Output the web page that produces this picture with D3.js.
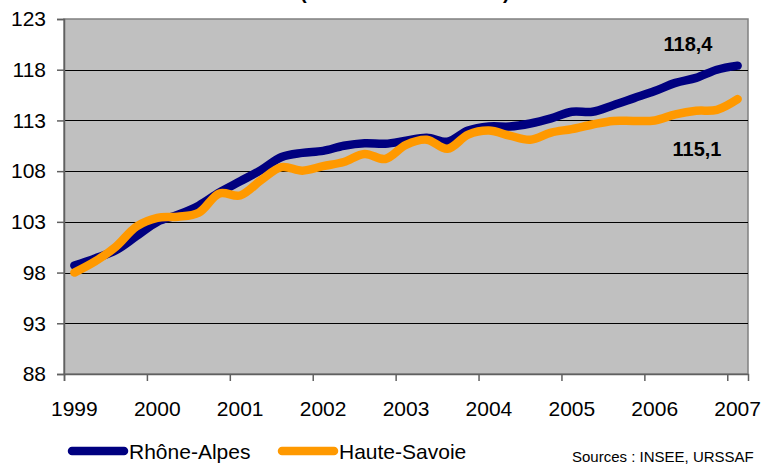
<!DOCTYPE html>
<html>
<head>
<meta charset="utf-8">
<script src="https://d3js.org/d3.v7.min.js"></script>
<style>
  body { margin: 0; background: #ffffff; }
  text { font-family: "Liberation Sans", Arial, sans-serif; }
</style>
</head>
<body>
<div id="chart"></div>
<script>
var years = ["1999", "2000", "2001", "2002", "2003", "2004", "2005", "2006", "2007"];
var quarters = [
  "1999T1", "1999T2", "1999T3", "1999T4", "2000T1", "2000T2", "2000T3", "2000T4",
  "2001T1", "2001T2", "2001T3", "2001T4", "2002T1", "2002T2", "2002T3", "2002T4",
  "2003T1", "2003T2", "2003T3", "2003T4", "2004T1", "2004T2", "2004T3", "2004T4",
  "2005T1", "2005T2", "2005T3", "2005T4", "2006T1", "2006T2", "2006T3", "2006T4",
  "2007T1"
];
var rhoneAlpes = [98.7, 99.4, 100.2, 101.6, 103.0, 103.7, 104.6, 105.9, 107.0, 108.1, 109.4, 109.8, 110.0, 110.5, 110.75, 110.7,
  111.0, 111.3, 110.9, 112.0, 112.4, 112.4, 112.7, 113.2, 113.85, 113.85, 114.5, 115.2, 115.9, 116.7, 117.2, 118.0, 118.4];
var hauteSavoie = [98.0, 99.1, 100.55, 102.55, 103.4, 103.5, 103.9, 105.8, 105.6, 107.1, 108.4, 108.05, 108.5, 108.9, 109.7, 109.2,
  110.6, 111.1, 110.2, 111.6, 112.0, 111.5, 111.1, 111.8, 112.15, 112.6, 112.95, 112.95, 113.0, 113.6, 113.95, 114.05, 115.1];
var yTicks = [88, 93, 98, 103, 108, 113, 118, 123];
var seriesNames = ["Rhône-Alpes", "Haute-Savoie"];
var seriesColors = ["#000080", "#ff9900"];

var width = 764;
var height = 467;
var plotL = 64, plotR = 748, plotT = 19, plotB = 374;

var svg = d3.select("#chart")
  .append("svg")
  .attr("width", width)
  .attr("height", height);

// category axis: one band per quarter, ticks on boundaries every year
var x = d3.scaleLinear().domain([0, quarters.length]).range([plotL, plotR]);
var y = d3.scaleLinear().domain([88, 123]).range([plotB, plotT]);

svg.append("rect")
  .attr("x", plotL)
  .attr("y", plotT)
  .attr("width", plotR - plotL)
  .attr("height", plotB - plotT)
  .attr("fill", "#c0c0c0")
  .attr("stroke", "#808080")
  .attr("stroke-width", 1.5);

svg.selectAll("line.grid")
  .data(yTicks.slice(1, -1))
  .enter()
  .append("line")
  .attr("class", "grid")
  .attr("x1", plotL)
  .attr("x2", plotR)
  .attr("y1", function(d) { return Math.round(y(d)) + 0.5; })
  .attr("y2", function(d) { return Math.round(y(d)) + 0.5; })
  .attr("stroke", "#000")
  .attr("stroke-width", 1);

// y axis
var yAxis = d3.axisLeft(y).tickValues(yTicks).tickSize(7).tickPadding(11);
var gy = svg.append("g")
  .attr("transform", "translate(" + plotL + ",0)")
  .call(yAxis);
gy.selectAll("path, line").attr("stroke", "#606060").attr("stroke-width", 1.5);
gy.selectAll("text").attr("font-size", 21).attr("fill", "#000")
  .attr("font-family", "Liberation Sans, Arial, sans-serif");

// x axis ticks
var xAxis = d3.axisBottom(x)
  .tickValues(d3.range(0, quarters.length, 4))
  .tickSize(7)
  .tickFormat("");
var gx = svg.append("g")
  .attr("transform", "translate(0," + plotB + ")")
  .call(xAxis);
gx.selectAll("path, line").attr("stroke", "#606060").attr("stroke-width", 1.5);

svg.selectAll("text.year")
  .data(years)
  .enter()
  .append("text")
  .attr("class", "year")
  .attr("x", function(d, i) { return x(i * 4 + 0.5); })
  .attr("y", 416)
  .attr("text-anchor", "middle")
  .attr("font-size", 21)
  .text(function(d) { return d; });

var line = d3.line()
  .x(function(d, i) { return x(i + 0.5); })
  .y(function(d) { return y(d); })
  .curve(d3.curveCatmullRom.alpha(0.5));

[rhoneAlpes, hauteSavoie].forEach(function(values, k) {
  svg.append("path")
    .datum(values)
    .attr("d", line)
    .attr("fill", "none")
    .attr("stroke", seriesColors[k])
    .attr("stroke-width", 8.5)
    .attr("stroke-linecap", "round")
    .attr("stroke-linejoin", "round");
});

// end value labels
var last = quarters.length - 1;
svg.append("text")
  .attr("x", 688)
  .attr("y", 51)
  .attr("text-anchor", "middle")
  .attr("font-size", 20)
  .attr("font-weight", "bold")
  .text(d3.format(".1f")(rhoneAlpes[last]).replace(".", ","));
svg.append("text")
  .attr("x", 697)
  .attr("y", 156)
  .attr("text-anchor", "middle")
  .attr("font-size", 20)
  .attr("font-weight", "bold")
  .text(d3.format(".1f")(hauteSavoie[last]).replace(".", ","));

// legend
var legendX = [72, 282];
seriesNames.forEach(function(name, k) {
  svg.append("line")
    .attr("x1", legendX[k])
    .attr("x2", legendX[k] + 52)
    .attr("y1", 451)
    .attr("y2", 451)
    .attr("stroke", seriesColors[k])
    .attr("stroke-width", 8.5)
    .attr("stroke-linecap", "round");
  svg.append("text")
    .attr("x", legendX[k] + 57)
    .attr("y", 459)
    .attr("font-size", 21)
    .text(name);
});

svg.append("text")
  .attr("x", 572)
  .attr("y", 462)
  .attr("font-size", 15)
  .text("Sources : INSEE, URSSAF");

// title is cut off by the top edge, only the parentheses show
svg.append("text")
  .attr("x", 300)
  .attr("y", -1)
  .attr("font-size", 20)
  .attr("font-weight", "bold")
  .text("(");
svg.append("text")
  .attr("x", 503)
  .attr("y", -1)
  .attr("font-size", 20)
  .attr("font-weight", "bold")
  .text(")");
</script>
</body>
</html>
